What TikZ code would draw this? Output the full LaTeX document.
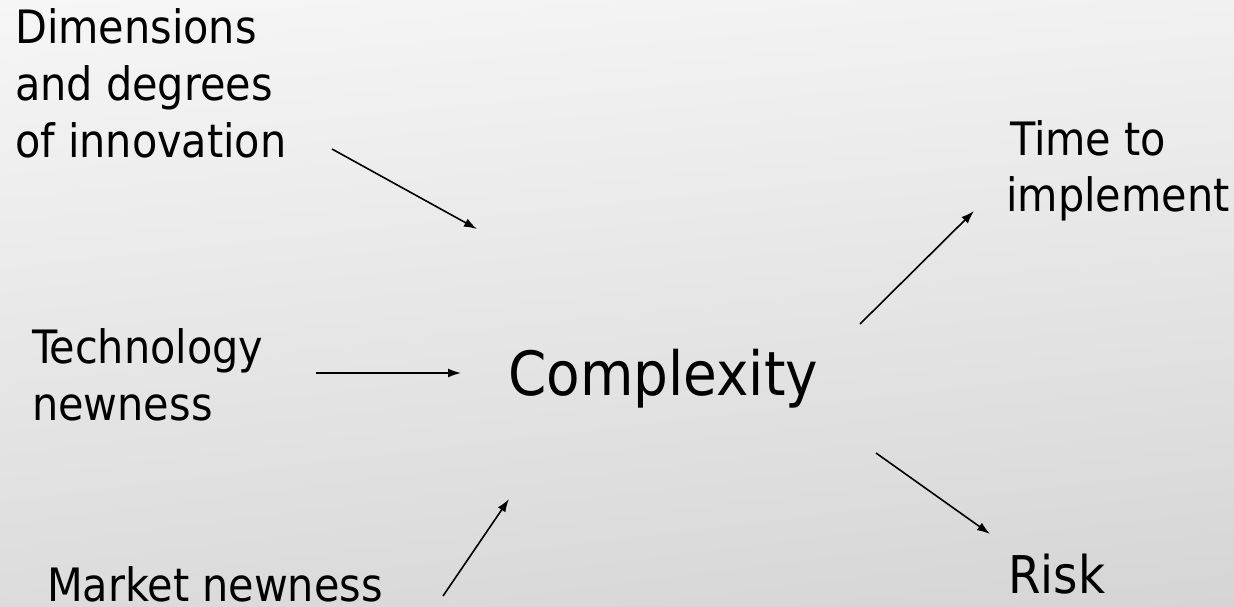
\documentclass[tikz,border=0pt]{standalone}
\usepackage{fontspec}
\IfFontExistsTF{DejaVu Sans Condensed}{\setmainfont{DejaVu Sans Condensed}}{\setmainfont{DejaVu Sans}}
\usetikzlibrary{arrows.meta,shadings}
\definecolor{bgUL}{RGB}{246,246,246}
\definecolor{bgUR}{RGB}{241,241,241}
\definecolor{bgLL}{RGB}{220,220,220}
\definecolor{bgLR}{RGB}{213,213,213}
\begin{document}
\begin{tikzpicture}[x=1pt,y=-1pt,
  lbl/.style={anchor=base west,inner sep=0pt,font=\fontsize{46}{56}\selectfont},
  big/.style={anchor=base west,inner sep=0pt,font=\fontsize{61}{70}\selectfont},
  risklbl/.style={anchor=base west,inner sep=0pt,font=\fontsize{52}{60}\selectfont},
  conn/.style={line width=1.6pt,-{Latex[length=13pt,width=9pt]}}]
\useasboundingbox (0,0) rectangle (1234,606);
\shade[upper left=bgUL,upper right=bgUR,lower left=bgLL,lower right=bgLR]
  (0,0) rectangle (1234,606);
% labels
\node[lbl] (dim1) at (15,43) {Dimensions};
\node[lbl] (dim2) at (15,100) {and degrees};
\node[lbl] (dim3) at (15,157) {of innovation};
\node[lbl] (tech1) at (32,363) {Technology};
\node[lbl] (tech2) at (32,420) {newness};
\node[lbl] (mkt) at (47,601) {Market newness};
\node[big] (cpx) at (508,395) {Complexity};
\node[lbl] (time1) at (1010,155) {Time to};
\node[lbl] (time2) at (1006,211) {implement};
\node[risklbl] (risk) at (1008,593) {Risk};
% arrow end points
\coordinate (a1s) at (332,149); \coordinate (a1e) at (477,229);
\coordinate (a2s) at (316,373); \coordinate (a2e) at (461,373);
\coordinate (a3s) at (443,596); \coordinate (a3e) at (509,499);
\coordinate (a4s) at (860,324); \coordinate (a4e) at (974,211);
\coordinate (a5s) at (876,453); \coordinate (a5e) at (990,534);
\draw[conn] (a1s) -- (a1e);
\draw[conn] (a2s) -- (a2e);
\draw[conn] (a3s) -- (a3e);
\draw[conn] (a4s) -- (a4e);
\draw[conn] (a5s) -- (a5e);
\end{tikzpicture}
\end{document}
